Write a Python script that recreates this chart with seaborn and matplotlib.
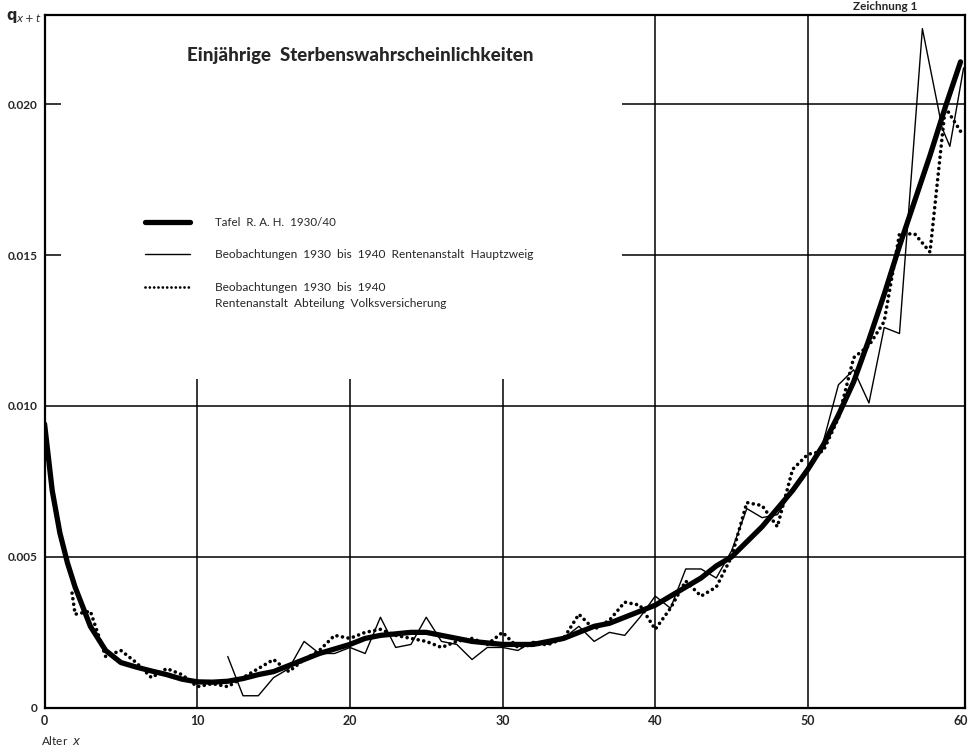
import numpy as np
import pandas as pd
import matplotlib
matplotlib.use("Agg")
import matplotlib.pyplot as plt
import seaborn as sns

# Tafel R.A.H. 1930/40 (ausgeglichene Werte)
alter_tafel = [0, 0.5, 1, 1.5, 2, 3, 4, 5, 6, 7, 8, 9, 10, 11, 12, 13, 14, 15, 16, 17, 18, 19,
               20, 21, 22, 23, 24, 25, 26, 27, 28, 29, 30, 31, 32, 33, 34, 35, 36, 37, 38, 39,
               40, 41, 42, 43, 44, 45, 46, 47, 48, 49, 50, 51, 52, 53, 54, 55, 56, 57, 58, 59, 60]
q_tafel = [0.0094, 0.0072, 0.0058, 0.0048, 0.0040, 0.0027, 0.0019, 0.0015, 0.00135, 0.00122,
           0.0011, 0.00095, 0.00086, 0.00085, 0.00088, 0.00097, 0.0011, 0.0012, 0.0014, 0.0016,
           0.0018, 0.00195, 0.0021, 0.0023, 0.0024, 0.00245, 0.0025, 0.0025, 0.0024, 0.0023,
           0.0022, 0.00215, 0.0021, 0.0021, 0.0021, 0.0022, 0.0023, 0.0025, 0.0027, 0.0028,
           0.0030, 0.0032, 0.0034, 0.0037, 0.0040, 0.0043, 0.0047, 0.0050, 0.0055, 0.0060,
           0.0066, 0.0072, 0.0079, 0.0087, 0.0097, 0.0108, 0.0122, 0.0137, 0.0153, 0.0168,
           0.0183, 0.0199, 0.0214]

# Beobachtungen Rentenanstalt Hauptzweig
alter_haupt = list(range(12, 57)) + [57.5, 58.8, 59.3, 60.2]
q_haupt = [0.0017, 0.0004, 0.0004, 0.0010, 0.0013, 0.0022, 0.0018, 0.0018, 0.0020, 0.0018,
           0.0030, 0.0020, 0.0021, 0.0030, 0.0022, 0.0021, 0.0016, 0.0020, 0.0020, 0.0019,
           0.0022, 0.0021, 0.0023, 0.0027, 0.0022, 0.0025, 0.0024, 0.0030, 0.0037, 0.0033,
           0.0046, 0.0046, 0.0043, 0.0052, 0.0066, 0.0063, 0.0064, 0.0072, 0.0080, 0.0088,
           0.0107, 0.0112, 0.0101, 0.0126, 0.0124, 0.0225, 0.0192, 0.0186, 0.0212]

# Beobachtungen Abteilung Volksversicherung
alter_volk = [1.8] + list(range(2, 61))
q_volk = [0.0038, 0.0031, 0.0032, 0.0017, 0.0019, 0.0015, 0.0010, 0.0013, 0.0011, 0.0007,
          0.0008, 0.0007, 0.0010, 0.0013, 0.0016, 0.0012, 0.0016, 0.0019, 0.0024, 0.0023,
          0.0025, 0.0026, 0.0024, 0.0023, 0.0022, 0.0020, 0.0022, 0.0023, 0.0021, 0.0025,
          0.0020, 0.0021, 0.0021, 0.0023, 0.0031, 0.0026, 0.0029, 0.0035, 0.0034, 0.0026,
          0.0033, 0.0042, 0.0037, 0.0040, 0.0050, 0.0068, 0.0067, 0.0060, 0.0079, 0.0084,
          0.0085, 0.0096, 0.0116, 0.0120, 0.0128, 0.0157, 0.0157, 0.0151, 0.0199, 0.0191]

x_ticks = [0, 10, 20, 30, 40, 50, 60]
y_ticks = [0, 0.005, 0.010, 0.015, 0.020]
y_tick_labels = ["0", "0.005", "0.010", "0.015", "0.020"]

labels = ["Tafel  R. A. H.  1930/40",
          "Beobachtungen  1930  bis  1940  Rentenanstalt  Hauptzweig",
          "Beobachtungen  1930  bis  1940",
          "Rentenanstalt  Abteilung  Volksversicherung"]

sns.set_style("white")
plt.rcParams["font.family"] = ["Lato", "DejaVu Sans"]

fig = plt.figure(figsize=(9.69, 7.53), dpi=100)
ax = fig.add_axes([0.046, 0.060, 0.950, 0.920])

dots = (0, (0.01, 1.55))

# Gitter
ax.vlines([10, 20, 30], 0, 0.0109, color="black", lw=1.1)
ax.vlines([40, 50], 0, 0.0235, color="black", lw=1.1)
ax.hlines([0.005, 0.010], 0, 60.3, color="black", lw=1.1)
ax.hlines([0.015, 0.020], 37.8, 60.3, color="black", lw=1.1)
ax.hlines([0.015, 0.020], 0, 1.1, color="black", lw=1.1)

sns.lineplot(x=alter_haupt, y=q_haupt, ax=ax, color="black", lw=1.0, sort=False, estimator=None)
sns.lineplot(x=alter_volk, y=q_volk, ax=ax, color="black", lw=2.6, sort=False, estimator=None,
             linestyle=dots, dash_capstyle="round")
sns.lineplot(x=alter_tafel, y=q_tafel, ax=ax, color="black", lw=3.8, sort=False, estimator=None,
             solid_capstyle="round")

ax.set_xlim(0, 60.3)
ax.set_ylim(0, 0.02295)
ax.set_xticks(x_ticks)
ax.set_xticklabels([str(t) for t in x_ticks], fontsize=9, fontweight="bold")
ax.set_yticks(y_ticks)
ax.set_yticklabels(y_tick_labels, fontsize=8.5, fontweight="bold")
ax.tick_params(length=0, pad=5)
for s in ax.spines.values():
    s.set_linewidth(1.6)
    s.set_color("black")

# Legende
lx0, lx1, tx = 0.109, 0.158, 0.185
ly = [0.701, 0.655, 0.607]
ax.plot([lx0, lx1], [ly[0], ly[0]], transform=ax.transAxes, color="black", lw=3.8,
        solid_capstyle="round")
ax.plot([lx0, lx1], [ly[1], ly[1]], transform=ax.transAxes, color="black", lw=1.0)
ax.plot([lx0, lx1], [ly[2], ly[2]], transform=ax.transAxes, color="black", lw=2.0,
        linestyle=dots, dash_capstyle="round")
ax.text(tx, ly[0], labels[0], transform=ax.transAxes, fontsize=8.3, va="center")
ax.text(tx, ly[1], labels[1], transform=ax.transAxes, fontsize=8.6, va="center")
ax.text(tx, ly[2], labels[2], transform=ax.transAxes, fontsize=8.6, va="center")
ax.text(tx, ly[2] - 0.023, labels[3], transform=ax.transAxes, fontsize=8.6, va="center")

ax.text(0.155, 0.942, "Einjährige  Sterbenswahrscheinlichkeiten", transform=ax.transAxes,
        fontsize=13.5, fontweight="black", va="center")

fig.text(0.913, 0.999, "Zeichnung 1", fontsize=8.5, fontweight="bold", ha="center", va="top")
fig.text(0.006, 0.978, r"$\mathbf{q}_{x+t}$", fontsize=10.5, va="center")
fig.text(0.042, 0.017, "Alter  $x$", fontsize=8.5, va="center")

fig.savefig("out.png", dpi=100, facecolor="white")
